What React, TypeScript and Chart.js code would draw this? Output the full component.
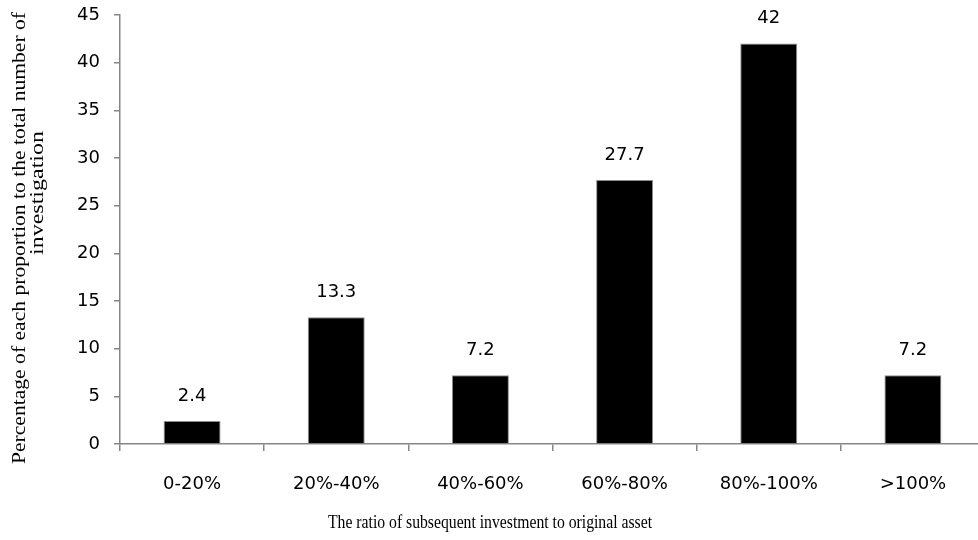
import React, { useEffect, useRef } from "react";
import { Chart, registerables } from "chart.js";

Chart.register(...registerables);

const categories = ["0-20%", "20%-40%", "40%-60%", "60%-80%", "80%-100%", ">100%"];
const values = [2.4, 13.3, 7.2, 27.7, 42, 7.2];
const valueLabels = ["2.4", "13.3", "7.2", "27.7", "42", "7.2"];
const yTitleLines = ["Percentage of each proportion to the total number of", "investigation"];
const xTitle = "The ratio of subsequent investment to original asset";

const SANS = "'DejaVu Sans', sans-serif";
const SERIF = "'Liberation Serif', 'Times New Roman', serif";

function drawFitted(
  ctx: CanvasRenderingContext2D,
  text: string,
  cx: number,
  cy: number,
  width: number,
  font: string,
  rotate: boolean
) {
  ctx.save();
  ctx.font = font;
  const w = ctx.measureText(text).width;
  const sx = width / w;
  ctx.translate(cx, cy);
  if (rotate) ctx.rotate(-Math.PI / 2);
  ctx.scale(sx, 1);
  ctx.textAlign = "center";
  ctx.textBaseline = "middle";
  ctx.fillStyle = "#000";
  ctx.fillText(text, 0, 0);
  ctx.restore();
}

const decorPlugin = {
  id: "decor",
  afterDatasetsDraw(chart: any) {
    const ctx = chart.ctx as CanvasRenderingContext2D;
    const meta = chart.getDatasetMeta(0);
    ctx.save();
    ctx.font = `18px ${SANS}`;
    ctx.fillStyle = "#000";
    ctx.textAlign = "center";
    ctx.textBaseline = "middle";
    meta.data.forEach((bar: any, i: number) => {
      ctx.fillText(valueLabels[i], bar.x, bar.y - 25);
    });
    ctx.restore();
    // axis titles
    drawFitted(ctx, yTitleLines[0], 20, 238, 452, `19px ${SERIF}`, true);
    drawFitted(ctx, yTitleLines[1], 38, 193, 124, `19px ${SERIF}`, true);
    drawFitted(ctx, xTitle, 490, 523, 324, `19px ${SERIF}`, false);
  },
};

export default function App() {
  const ref = useRef<HTMLCanvasElement | null>(null);
  useEffect(() => {
    if (!ref.current) return;
    const chart = new Chart(ref.current, {
      type: "bar",
      data: {
        labels: categories,
        datasets: [
          {
            data: values,
            backgroundColor: "#000000",
            borderColor: "#8c8c8c",
            borderWidth: 1,
            barPercentage: 0.395,
            categoryPercentage: 1,
          },
        ],
      },
      options: {
        responsive: false,
        animation: false,
        maintainAspectRatio: false,
        layout: { padding: { top: 15, right: 5, left: 0, bottom: 0 } },
        plugins: {
          legend: { display: false },
          tooltip: { enabled: false },
          title: { display: false },
        },
        scales: {
          x: {
            afterFit: (s: any) => {
              s.height = 96;
              s.paddingLeft = 0;
              s.paddingRight = 0;
            },
            border: { color: "#868686", width: 1.5 },
            grid: {
              offset: true,
              drawOnChartArea: false,
              drawTicks: true,
              tickLength: 7,
              color: "#868686",
              lineWidth: 1.5,
            },
            ticks: {
              color: "#000",
              font: { family: SANS, size: 18 },
              padding: 23,
              maxRotation: 0,
              autoSkip: false,
            },
          },
          y: {
            min: 0,
            max: 45,
            afterFit: (s: any) => {
              s.width = 120;
              s.paddingTop = 0;
              s.paddingBottom = 0;
            },
            border: { color: "#868686", width: 1.5 },
            grid: {
              drawOnChartArea: false,
              drawTicks: true,
              tickLength: 6,
              color: "#868686",
              lineWidth: 1.5,
            },
            ticks: {
              stepSize: 5,
              color: "#000",
              font: { family: SANS, size: 18 },
              padding: 14,
            },
          },
        },
      },
      plugins: [decorPlugin],
    });
    return () => chart.destroy();
  }, []);
  return (
    <div
      style={{
        position: "fixed",
        left: 0,
        top: 0,
        width: 978,
        height: 540,
        overflow: "hidden",
        background: "#fff",
      }}
    >
      <canvas ref={ref} width={990} height={540} style={{ display: "block" }} />
    </div>
  );
}
